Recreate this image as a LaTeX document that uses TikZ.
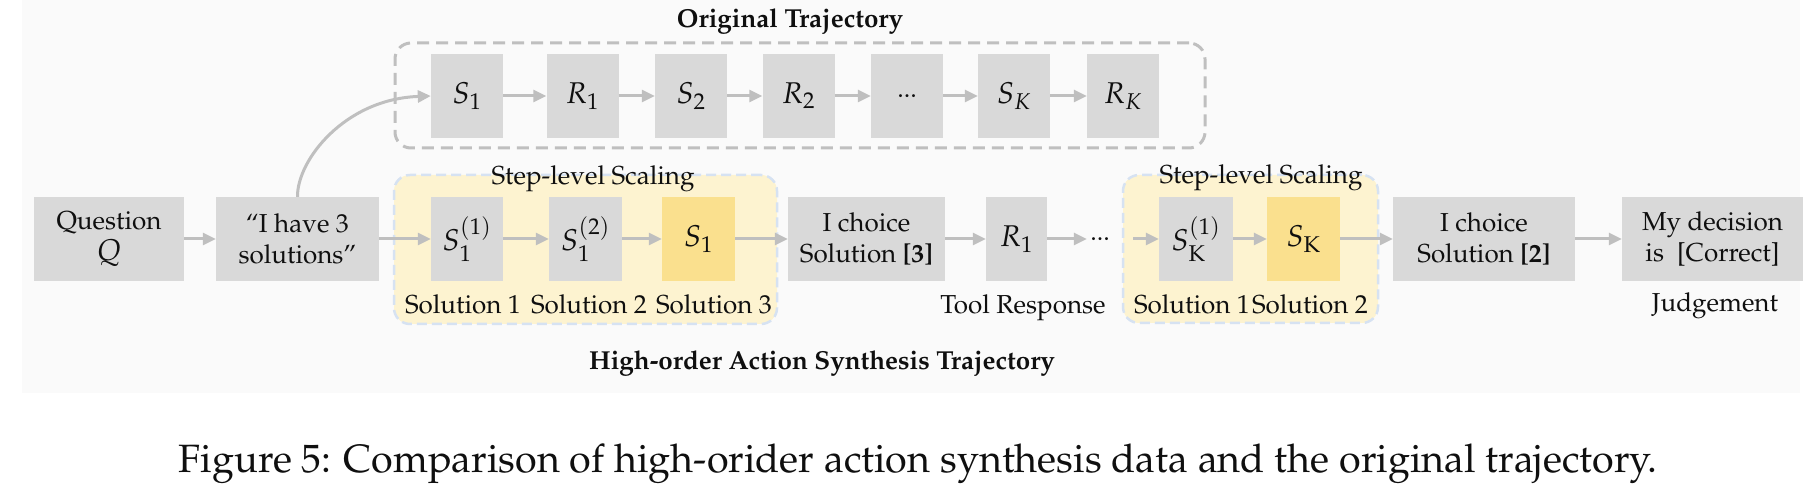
\documentclass[tikz,border=0pt]{standalone}
\usepackage[T1]{fontenc}
\usepackage{mathpazo}
\usetikzlibrary{arrows.meta}
\definecolor{boxgray}{RGB}{217,217,217}
\definecolor{linegray}{RGB}{191,191,191}
\definecolor{gold}{RGB}{250,224,142}
\definecolor{cream}{RGB}{253,243,208}
\definecolor{paleblue}{RGB}{214,226,242}
\definecolor{bgc}{RGB}{250,250,250}
\definecolor{ink}{RGB}{15,15,15}
\begin{document}
\begin{tikzpicture}[x=1pt,y=-1pt,
  font=\fontsize{26}{31}\selectfont, text=ink,
  gbox/.style={fill=boxgray, draw=none, inner sep=0pt, align=center, minimum height=84pt},
  ybox/.style={fill=gold, draw=none, inner sep=0pt, align=center, minimum height=84pt},
  mth/.style={font=\fontsize{30}{32}\selectfont},
  arr/.style={draw=linegray, line width=3pt, -{Triangle[length=13pt,width=12pt]}},
  lbl/.style={inner sep=0pt, anchor=base},
  ttl/.style={inner sep=0pt, anchor=base, font=\fontsize{26}{31}\selectfont\bfseries},
  cont/.style={fill=cream, draw=paleblue, line width=2.5pt, dash pattern=on 10pt off 5pt, rounded corners=16pt, inner sep=0pt},
  topcont/.style={draw=linegray, line width=3pt, dash pattern=on 12pt off 7pt, rounded corners=16pt, inner sep=0pt},
]
\useasboundingbox (0,0) rectangle (1818,502);
\fill[bgc] (22,0) rectangle (1800,393);

% containers
\node[topcont, minimum width=810pt, minimum height=105pt] (orig) at (800,95.5) {};
\node[cont, minimum width=383pt, minimum height=149pt] (grpA) at (585.5,249.5) {};
\node[cont, minimum width=255pt, minimum height=148pt] (grpB) at (1250.5,249) {};

% top row
\node[gbox, mth, minimum width=72pt] (s1t) at (467,96) {$S_1$};
\node[gbox, mth, minimum width=72pt] (r1t) at (582.5,96) {$R_1$};
\node[gbox, mth, minimum width=72pt] (s2t) at (691,96) {$S_2$};
\node[gbox, mth, minimum width=72pt] (r2t) at (798.5,96) {$R_2$};
\node[gbox, minimum width=72pt] (dt) at (907,96) {...};
\node[gbox, mth, minimum width=72pt] (skt) at (1014,96) {$S_K$};
\node[gbox, mth, minimum width=72pt] (rkt) at (1123,96) {$R_K$};

% bottom row
\node[gbox, minimum width=150pt] (q) at (109,239) {Question\\{\fontsize{30}{31}\selectfont$Q$}};
\node[gbox, minimum width=163pt] (ih) at (297.5,239) {``I have 3\\solutions''};
\node[gbox, mth, minimum width=72pt] (s11) at (467,239) {$S_1^{(1)}$};
\node[gbox, mth, minimum width=73pt] (s12) at (585.5,239) {$S_1^{(2)}$};
\node[ybox, mth, minimum width=73pt] (s1y) at (698.5,239) {$S_1$};
\node[gbox, minimum width=157pt] (ic3) at (866.5,239) {I choice\\Solution \textbf{[3]}};
\node[gbox, mth, minimum width=61pt] (r1b) at (1016.5,239) {$R_1$};
\node[inner sep=0pt, minimum width=46pt] (dots) at (1110,239) {...\hspace*{20pt}};
\node[gbox, mth, minimum width=74pt] (sk1) at (1196,239) {$S_{\mathrm{K}}^{(1)}$};
\node[ybox, mth, minimum width=73pt] (sky) at (1303.5,239) {$S_{\mathrm{K}}$};
\node[gbox, minimum width=182pt] (ic2) at (1484,239) {I choice\\Solution \textbf{[2]}};
\node[gbox, minimum width=181pt] (md) at (1712.5,239) {My decision\\is~~[Correct]};

% labels
\node[ttl] (tOrig) at (790,28) {Original Trajectory};
\node[ttl] (tHigh) at (822,370) {High-order Action Synthesis Trajectory};
\node[lbl] (stepA) at (593,185) {Step-level Scaling};
\node[lbl] (stepB) at (1261,184) {Step-level Scaling};
\node[lbl] (solA1) at (463,314) {Solution 1};
\node[lbl] (solA2) at (589,314) {Solution 2};
\node[lbl] (solA3) at (714,314) {Solution 3};
\node[lbl] (solB1) at (1192,314) {Solution 1};
\node[lbl] (solB2) at (1310,314) {Solution 2};
\node[lbl] (tool) at (1023,314) {Tool Response};
\node[lbl] (judge) at (1715,312) {Judgement};
\node[lbl, font=\fontsize{39.5}{44}\selectfont] (cap) at (918,472) {Figure 5: Comparison of high-orider action synthesis data and the original trajectory.};

% top arrows
\draw[arr] (s1t) -- (r1t);
\draw[arr] (r1t) -- (s2t);
\draw[arr] (s2t) -- (r2t);
\draw[arr] (r2t) -- (dt);
\draw[arr] (dt) -- (skt);
\draw[arr] (skt) -- (rkt);
\draw[arr] (ih.north) .. controls (297,160) and (345,99) .. (s1t.west);

% bottom arrows
\draw[arr] (q) -- (ih);
\draw[arr] (ih) -- (s11);
\draw[arr] (s11) -- (s12);
\draw[arr] (s12) -- (s1y);
\draw[arr] (s1y) -- (ic3);
\draw[arr] (ic3) -- (r1b);
\draw[arr] (r1b) -- (dots);
\draw[arr] (dots) -- (sk1);
\draw[arr] (sk1) -- (sky);
\draw[arr] (sky) -- (ic2);
\draw[arr] (ic2) -- (md);
\end{tikzpicture}
\end{document}
